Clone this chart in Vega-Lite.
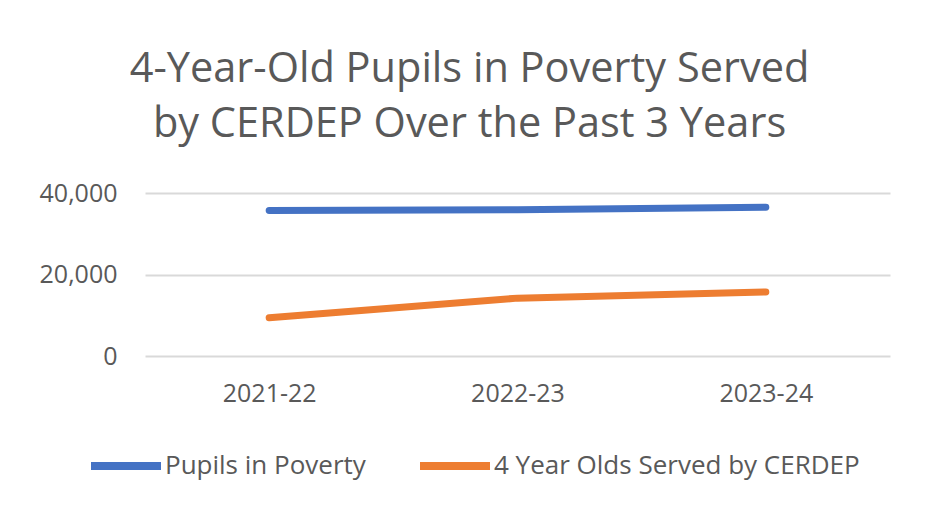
{
  "$schema": "https://vega.github.io/schema/vega-lite/v6.json",
  "width": 745,
  "height": 163,
  "padding": {"left": 39, "top": 48, "right": 5, "bottom": 5},
  "background": "white",
  "title": {
    "text": ["4-Year-Old Pupils in Poverty Served", "by CERDEP Over the Past 3 Years"],
    "font": "Open Sans",
    "fontSize": 41.5,
    "fontWeight": "normal",
    "color": "#595959",
    "lineHeight": 55,
    "anchor": "middle",
    "frame": "bounds",
    "offset": 36,
    "dx": 5
  },
  "data": {
    "values": [
      {"year": "2021-22", "series": "Pupils in Poverty", "value": 35700},
      {"year": "2022-23", "series": "Pupils in Poverty", "value": 35900},
      {"year": "2023-24", "series": "Pupils in Poverty", "value": 36500},
      {"year": "2021-22", "series": "4 Year Olds Served by CERDEP", "value": 9400},
      {"year": "2022-23", "series": "4 Year Olds Served by CERDEP", "value": 14200},
      {"year": "2023-24", "series": "4 Year Olds Served by CERDEP", "value": 15700}
    ]
  },
  "mark": {"type": "line", "strokeWidth": 7, "strokeCap": "round", "strokeJoin": "round"},
  "encoding": {
    "x": {
      "field": "year",
      "type": "ordinal",
      "scale": {"type": "point", "padding": 0.5},
      "axis": {
        "title": null,
        "labelAngle": 0,
        "domain": false,
        "ticks": false,
        "grid": false,
        "labelFont": "Open Sans",
        "labelFontSize": 25,
        "labelColor": "#595959",
        "labelPadding": 25
      }
    },
    "y": {
      "field": "value",
      "type": "quantitative",
      "scale": {"domain": [0, 40000]},
      "axis": {
        "title": null,
        "values": [0, 20000, 40000],
        "format": ",.0f",
        "domain": false,
        "ticks": false,
        "gridColor": "#D9D9D9",
        "gridWidth": 2,
        "labelFont": "Open Sans",
        "labelFontSize": 25,
        "labelColor": "#595959",
        "labelPadding": 28
      }
    },
    "color": {
      "field": "series",
      "type": "nominal",
      "scale": {
        "domain": ["Pupils in Poverty", "4 Year Olds Served by CERDEP"],
        "range": ["#4472C4", "#ED7D31"]
      },
      "legend": {
        "title": null,
        "orient": "none",
        "legendX": -58,
        "legendY": 234,
        "direction": "horizontal",
        "symbolType": "stroke",
        "symbolSize": 4900,
        "symbolStrokeWidth": 8,
        "labelFont": "Open Sans",
        "labelFontSize": 26,
        "labelColor": "#595959",
        "labelOffset": 0,
        "columnPadding": 38,
        "labelLimit": 500
      }
    }
  },
  "config": {
    "view": {"stroke": null}
  }
}
